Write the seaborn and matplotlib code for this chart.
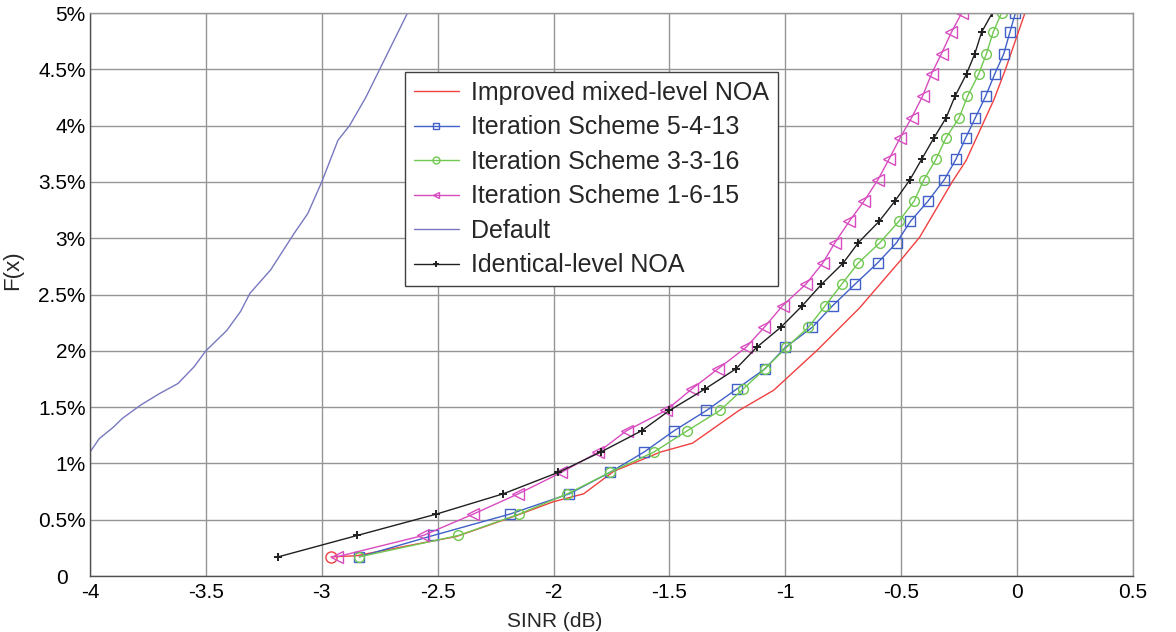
import numpy as np
import pandas as pd
import matplotlib
matplotlib.use('Agg')
import matplotlib.pyplot as plt
from matplotlib.ticker import FuncFormatter
import seaborn as sns

sns.set_style('whitegrid')
plt.rcParams['font.family'] = ['Liberation Sans', 'DejaVu Sans']

# F(x) levels (in %) shared by the marker series
f_levels = [0.17, 0.36, 0.55, 0.73, 0.92, 1.10, 1.29, 1.47, 1.66, 1.84, 2.03, 2.21, 2.40,
            2.59, 2.78, 2.96, 3.15, 3.33, 3.52, 3.70, 3.89, 4.07, 4.26, 4.46, 4.64, 4.83, 5.0]

sinr_5_4_13 = [-2.838, -2.519, -2.188, -1.932, -1.757, -1.61, -1.48, -1.34, -1.21, -1.088,
               -1.0, -0.883, -0.796, -0.70, -0.602, -0.52, -0.46, -0.384, -0.314, -0.264,
               -0.222, -0.18, -0.136, -0.096, -0.057, -0.031, -0.007]
sinr_3_3_16 = [-2.838, -2.41, -2.148, -1.94, -1.757, -1.568, -1.423, -1.282, -1.182, -1.088,
               -0.995, -0.90, -0.828, -0.757, -0.685, -0.592, -0.51, -0.444, -0.402, -0.35,
               -0.307, -0.25, -0.214, -0.165, -0.132, -0.103, -0.067]
sinr_1_6_15 = [-2.936, -2.562, -2.346, -2.152, -1.966, -1.807, -1.685, -1.515, -1.404, -1.29,
               -1.17, -1.09, -1.012, -0.912, -0.838, -0.786, -0.724, -0.66, -0.60, -0.553,
               -0.505, -0.455, -0.408, -0.369, -0.326, -0.283, -0.239]
sinr_identical = [-3.188, -2.847, -2.505, -2.217, -1.98, -1.797, -1.62, -1.50, -1.347, -1.213,
                  -1.124, -1.019, -0.927, -0.844, -0.75, -0.685, -0.595, -0.527, -0.462, -0.412,
                  -0.359, -0.306, -0.268, -0.218, -0.182, -0.153, -0.107]

# improved mixed-level NOA (plain line)
sinr_improved = [-2.96, -2.85, -2.55, -2.42, -2.17, -2.0, -1.87, -1.74, -1.54, -1.40, -1.20,
                 -1.05, -0.86, -0.68, -0.50, -0.42, -0.28, -0.22, -0.10, -0.05, 0.034]
f_improved = [0.17, 0.18, 0.30, 0.35, 0.53, 0.66, 0.73, 0.93, 1.10, 1.18, 1.47,
              1.65, 2.01, 2.38, 2.81, 3.01, 3.50, 3.69, 4.23, 4.50, 5.0]

# default
sinr_default = [-4.0, -3.96, -3.9, -3.86, -3.78, -3.7, -3.62, -3.55, -3.5, -3.41, -3.35,
                -3.31, -3.22, -3.12, -3.06, -3.0, -2.93, -2.88, -2.81, -2.75, -2.69, -2.63]
f_default = [1.10, 1.22, 1.32, 1.40, 1.52, 1.62, 1.71, 1.86, 2.0, 2.18, 2.35,
             2.51, 2.72, 3.04, 3.22, 3.5, 3.87, 4.0, 4.25, 4.5, 4.75, 5.0]

x_ticks = [-4, -3.5, -3, -2.5, -2, -1.5, -1, -0.5, 0, 0.5]
y_ticks = [0, 0.5, 1, 1.5, 2, 2.5, 3, 3.5, 4, 4.5, 5]

fig = plt.figure(figsize=(11.76, 6.32), dpi=100)
ax = fig.add_axes([0.0765, 0.0886, 0.8869, 0.8908])

sns.lineplot(x=sinr_improved, y=f_improved, sort=False, ax=ax, color='#f04040', lw=1.0,
             marker='o', markevery=[0], ms=8, mfc='none', mec='#f04040', mew=1.0,
             label='Improved mixed-level NOA')
sns.lineplot(x=sinr_5_4_13, y=f_levels, sort=False, ax=ax, color='#4060c8', lw=1.0,
             marker='s', ms=7, mfc='none', mec='#4060c8', mew=1.0,
             label='Iteration Scheme 5-4-13')
sns.lineplot(x=sinr_3_3_16, y=f_levels, sort=False, ax=ax, color='#70c850', lw=1.0,
             marker='o', ms=7, mfc='none', mec='#70c850', mew=1.0,
             label='Iteration Scheme 3-3-16')
sns.lineplot(x=sinr_1_6_15, y=f_levels, sort=False, ax=ax, color='#d84cc0', lw=1.0,
             marker='<', ms=8, mfc='none', mec='#d84cc0', mew=1.0,
             label='Iteration Scheme 1-6-15')
sns.lineplot(x=sinr_default, y=f_default, sort=False, ax=ax, color='#7878c0', lw=1.0,
             label='Default')
sns.lineplot(x=sinr_identical, y=f_levels, sort=False, ax=ax, color='#202020', lw=1.0,
             marker='+', ms=6, mec='#202020', mew=1.4,
             label='Identical-level NOA')

ax.set_xlim(-4, 0.5)
ax.set_ylim(0, 5)
ax.set_xticks(x_ticks)
ax.set_yticks(y_ticks)
ax.yaxis.set_major_formatter(FuncFormatter(lambda v, p: '0   ' if v == 0 else '%g%%' % v))
ax.xaxis.set_major_formatter(FuncFormatter(lambda v, p: '%g' % v))
ax.tick_params(axis='both', labelsize=15, length=0, pad=3, colors='black')
ax.tick_params(axis='x', pad=5)
ax.grid(True, color='#959595', lw=1.0)
for s in ax.spines.values():
    s.set_color('#959595')
    s.set_linewidth(1.0)
ax.spines['left'].set_color('#505050')
ax.spines['bottom'].set_color('#505050')

ax.set_xlabel('SINR (dB)', fontsize=15)
ax.set_ylabel('F(x)', fontsize=16)
ax.xaxis.set_label_coords(0.446, -0.064)
ax.yaxis.set_label_coords(-0.064, 0.543)

leg = ax.legend(loc='upper left', bbox_to_anchor=(0.302, 0.895), fontsize=18,
                frameon=True, fancybox=False, framealpha=1, edgecolor='#404040',
                handlelength=1.8, handletextpad=0.5, borderpad=0.35, labelspacing=0.42,
                borderaxespad=0)
leg.get_frame().set_linewidth(1.0)
for h in leg.legend_handles:
    h.set_markersize(5)
leg.legend_handles[0].set_marker('')

fig.savefig('out.png', dpi=100)
